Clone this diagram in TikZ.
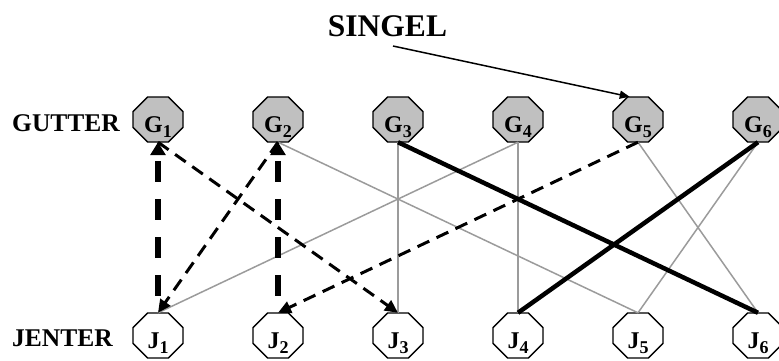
\documentclass[tikz,border=0pt]{standalone}
\usepackage{fontspec}
\setmainfont{Liberation Serif}
\usetikzlibrary{arrows.meta}
\definecolor{octfill}{RGB}{192,192,192}
\definecolor{edgegray}{RGB}{155,155,155}
\newcommand{\octn}[5]{%
  \filldraw[octline,fill=#4,shift={(#2,#3)}] (-25,-7.9) -- (-25,7.9) -- (-10.4,22.5) -- (10.4,22.5) -- (25,7.9) -- (25,-7.9) -- (10.4,-22.5) -- (-10.4,-22.5) -- cycle;
  \node[octbox] (#1) at (#2,#3) {#5};}
\newcommand{\gj}[2]{#1\raisebox{-5pt}{\fontsize{18}{18}\selectfont #2}}
\tikzset{
  octline/.style={draw=black, line width=1.4pt},
  octbox/.style={rectangle, minimum width=50pt, minimum height=45pt, inner sep=0pt,
    text height=25pt, text depth=0pt,
    font=\fontsize{24}{28}\selectfont\bfseries},
  rowlabel/.style={anchor=west, inner sep=0pt, font=\fontsize{25.5}{30}\selectfont\bfseries},
  grayedge/.style={draw=edgegray, line width=1.5pt},
  thickedge/.style={draw=black, line width=4.5pt},
  dashedge/.style={draw=black, line width=3pt, dash pattern=on 13pt off 8pt,
    -{Triangle[length=13pt,width=12pt]}},
  bigdash/.style={draw=black, line width=6pt, dash pattern=on 21pt off 17pt, dash phase=21pt,
    -{Triangle[length=13pt,width=15pt]}},
  thinarrow/.style={draw=black, line width=1.5pt, -{Triangle[length=10pt,width=8pt]}}
}
\begin{document}
\begin{tikzpicture}[x=1pt,y=-1pt]
\useasboundingbox (0,0) rectangle (779,360);
% nodes
\octn{G1}{158}{119.5}{octfill}{\gj{G}{1}}
\octn{G2}{278}{119.5}{octfill}{\gj{G}{2}}
\octn{G3}{398}{119.5}{octfill}{\gj{G}{3}}
\octn{G4}{518}{119.5}{octfill}{\gj{G}{4}}
\octn{G5}{638}{119.5}{octfill}{\gj{G}{5}}
\octn{G6}{758}{119.5}{octfill}{\gj{G}{6}}
\octn{J1}{158}{335.5}{white}{\gj{J}{1}}
\octn{J2}{278}{335.5}{white}{\gj{J}{2}}
\octn{J3}{398}{335.5}{white}{\gj{J}{3}}
\octn{J4}{518}{335.5}{white}{\gj{J}{4}}
\octn{J5}{638}{335.5}{white}{\gj{J}{5}}
\octn{J6}{758}{335.5}{white}{\gj{J}{6}}
% labels
\node[rowlabel] (gutter) at (12,123.5) {GUTTER};
\node[rowlabel] (jenter) at (12,338.5) {JENTER};
\node[inner sep=0pt, font=\fontsize{31.5}{36}\selectfont\bfseries] (singel) at (387.5,26) {SINGEL};
\coordinate (sarr) at (393,46);
\draw[thinarrow] (sarr) -- (G5.110);
% gray edges
\draw[grayedge] (G2.south) -- (J5.north);
\draw[grayedge] (G3.south) -- (J3.north);
\draw[grayedge] (G4.south) -- (J1.north);
\draw[grayedge] (G4.south) -- (J4.north);
\draw[grayedge] (G5.south) -- (J6.north);
\draw[grayedge] (G6.south) -- (J5.north);
% thick edges
\draw[thickedge] (G3.south) -- (J6.north);
\draw[thickedge] (G6.south) -- (J4.north);
% dashed arrows
\draw[dashedge] (G1.south) -- (J3.north);
\draw[dashedge] (G2.south) -- (J1.north);
\draw[dashedge] (G5.south) -- (J2.north);
\draw[bigdash] (J1.north) -- (G1.south);
\draw[bigdash] (J2.north) -- (G2.south);
\end{tikzpicture}
\end{document}
